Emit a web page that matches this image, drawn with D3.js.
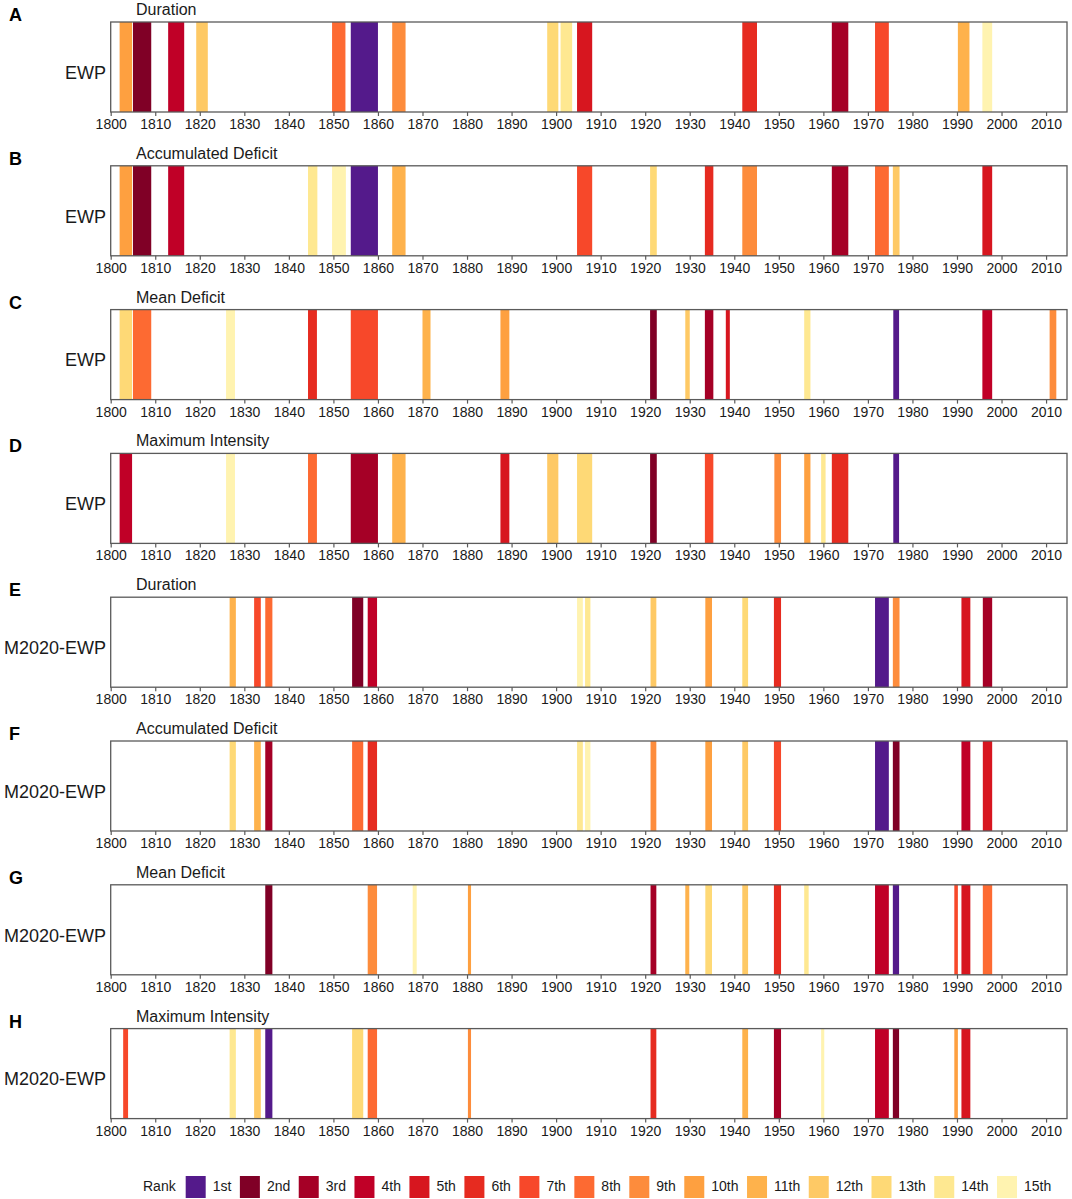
<!DOCTYPE html>
<html>
<head>
<meta charset="utf-8">
<script src="https://cdn.jsdelivr.net/npm/d3@7"></script>
<style>
  html, body { margin: 0; padding: 0; background: #fff; }
  svg { display: block; font-family: "Liberation Sans", Arial, sans-serif; }
</style>
</head>
<body>
<svg id="chart" width="1072" height="1199"></svg>
<script>
// ---------- data ----------
const rankLabels = ["1st","2nd","3rd","4th","5th","6th","7th","8th","9th","10th","11th","12th","13th","14th","15th"];
const rankColors = ["#541a8b","#800026","#a50026","#c00027","#d7161f","#e62b20","#f7482a","#fd6a32",
                    "#fd8c3c","#fea040","#feb24c","#fec965","#fed976","#fee891","#fff3b0"];
const panelLetters = ["A","B","C","D","E","F","G","H"];
const panelTitles = ["Duration","Accumulated Deficit","Mean Deficit","Maximum Intensity",
                     "Duration","Accumulated Deficit","Mean Deficit","Maximum Intensity"];
const panelSeries = ["EWP","EWP","EWP","EWP","M2020-EWP","M2020-EWP","M2020-EWP","M2020-EWP"];
const xTickValues = [1800,1810,1820,1830,1840,1850,1860,1870,1880,1890,1900,1910,1920,1930,1940,1950,1960,1970,1980,1990,2000,2010];

// events: [start year, end year, rank]
const ewpDuration = [
  [1802.0,1804.8,10],[1805.0,1809.1,2],[1812.9,1816.5,4],[1819.2,1821.8,12],[1849.7,1852.7,8],
  [1853.9,1860.0,1],[1863.2,1866.2,9],[1898.0,1900.5,13],[1901.0,1903.6,14],[1904.7,1908.1,5],
  [1941.8,1945.1,6],[1961.9,1965.6,3],[1971.6,1974.7,7],[1990.2,1992.8,11],[1995.7,1997.9,15]
];
const ewpAccDeficit = [
  [1802.0,1804.8,10],[1805.0,1809.1,2],[1812.9,1816.5,4],[1844.3,1846.4,14],[1849.7,1852.8,15],
  [1853.9,1860.0,1],[1863.2,1866.2,11],[1904.7,1908.1,7],[1921.1,1922.6,13],[1933.4,1935.3,6],
  [1941.8,1945.1,9],[1961.9,1965.6,3],[1971.6,1974.7,8],[1975.6,1977.1,12],[1995.7,1997.9,5]
];
const ewpMeanDeficit = [
  [1802.0,1804.8,13],[1805.0,1809.1,8],[1825.9,1827.9,15],[1844.3,1846.3,6],[1853.9,1860.0,7],
  [1870.0,1871.8,11],[1887.5,1889.5,10],[1921.1,1922.6,2],[1929.0,1930.0,12],[1933.4,1935.3,3],
  [1938.1,1939.0,5],[1955.7,1957.1,14],[1975.7,1977.0,1],[1995.7,1997.9,4],[2010.8,2012.3,9]
];
const ewpMaxIntensity = [
  [1802.0,1804.8,4],[1825.9,1827.9,15],[1844.3,1846.3,8],[1853.9,1860.0,3],[1863.2,1866.2,11],
  [1887.5,1889.5,5],[1898.0,1900.5,12],[1904.7,1908.1,13],[1921.1,1922.6,2],[1933.4,1935.3,7],
  [1949.0,1950.5,9],[1955.7,1957.1,10],[1959.5,1960.5,14],[1961.9,1965.6,6],[1975.7,1977.0,1]
];
const m2020Duration = [
  [1826.7,1828.1,11],[1832.2,1833.7,7],[1834.7,1836.3,8],[1854.2,1856.7,2],[1857.7,1859.8,4],
  [1904.7,1906.0,15],[1906.5,1907.7,14],[1921.2,1922.5,12],[1933.5,1935.0,10],[1941.8,1943.1,13],
  [1948.9,1950.5,6],[1971.6,1974.7,1],[1975.6,1977.1,9],[1991.0,1993.0,5],[1995.8,1997.9,3]
];
const m2020AccDeficit = [
  [1826.7,1828.1,13],[1832.2,1833.7,11],[1834.7,1836.3,3],[1854.2,1856.7,8],[1857.7,1859.8,6],
  [1904.7,1906.0,14],[1906.5,1907.7,15],[1921.2,1922.5,9],[1933.5,1935.0,10],[1941.8,1943.1,12],
  [1948.9,1950.5,7],[1971.6,1974.7,1],[1975.6,1977.1,2],[1991.0,1993.0,4],[1995.8,1997.9,5]
];
const m2020MeanDeficit = [
  [1834.7,1836.3,2],[1857.7,1859.8,9],[1867.8,1868.7,15],[1880.2,1880.9,10],[1921.2,1922.5,3],
  [1929.0,1929.9,11],[1933.5,1935.0,13],[1941.8,1943.1,12],[1948.9,1950.5,6],[1955.7,1956.7,14],
  [1971.6,1974.7,4],[1975.6,1977.0,1],[1989.4,1990.2,7],[1991.0,1993.0,5],[1995.8,1997.9,8]
];
const m2020MaxIntensity = [
  [1802.8,1803.9,7],[1826.7,1828.1,14],[1832.2,1833.7,12],[1834.7,1836.3,1],[1854.2,1856.7,13],
  [1857.7,1859.8,8],[1880.2,1880.9,9],[1921.2,1922.5,6],[1941.8,1943.1,11],[1948.9,1950.5,3],
  [1959.5,1960.2,15],[1971.6,1974.7,4],[1975.6,1977.0,2],[1989.4,1990.2,10],[1991.0,1993.0,5]
];
const panelEvents = [ewpDuration, ewpAccDeficit, ewpMeanDeficit, ewpMaxIntensity,
                     m2020Duration, m2020AccDeficit, m2020MeanDeficit, m2020MaxIntensity];

// ---------- layout ----------
const svg = d3.select("#chart");
const plotLeft = 110.7, plotRight = 1067;
const firstTop = 22, panelStep = 143.8, panelHeight = 90;
const x = d3.scaleLinear().domain([1800, 2014.7]).range([plotLeft, plotRight]);
const color = d3.scaleOrdinal().domain(d3.range(1, 16)).range(rankColors);
const frameColor = "#5a5a5a";
const textColor = "#1a1a1a";

panelEvents.forEach((events, i) => {
  const top = firstTop + i * panelStep;
  const g = svg.append("g").attr("transform", `translate(0,${top})`);
  const y = d3.scaleLinear().domain([0, 1]).range([panelHeight, 0]);

  g.selectAll("rect.ev").data(events).join("rect")
    .attr("class", "ev")
    .attr("x", d => x(d[0]))
    .attr("width", d => x(d[1]) - x(d[0]))
    .attr("y", y(1))
    .attr("height", y(0) - y(1))
    .attr("fill", d => color(d[2]));

  g.append("rect")
    .attr("x", plotLeft).attr("y", 0)
    .attr("width", plotRight - plotLeft).attr("height", panelHeight)
    .attr("fill", "none").attr("stroke", frameColor).attr("stroke-width", 1.3);

  const ax = g.append("g").attr("transform", `translate(0,${panelHeight})`)
    .call(d3.axisBottom(x).tickValues(xTickValues).tickFormat(d3.format("d")).tickSize(4).tickPadding(3));
  ax.select(".domain").remove();
  ax.selectAll(".tick line").attr("stroke", frameColor).attr("stroke-width", 1.2);
  ax.selectAll(".tick text").attr("fill", textColor).style("font-size", "14px")
    .style("font-family", "'Liberation Sans', Arial, sans-serif");

  svg.append("text").attr("x", 9).attr("y", top - 1)
    .attr("font-size", 18).attr("font-weight", "bold").attr("fill", "#000")
    .text(panelLetters[i]);

  svg.append("text").attr("x", 136).attr("y", top - 7)
    .attr("font-size", 16).attr("fill", textColor)
    .text(panelTitles[i]);

  svg.append("text").attr("x", 106).attr("y", top + panelHeight / 2 + 7)
    .attr("text-anchor", "end").attr("dominant-baseline", "middle")
    .attr("font-size", 18).attr("fill", textColor)
    .text(panelSeries[i]);
});

// ---------- legend ----------
const legendY = 1187;
const legendFont = 14;
const lg = svg.append("g");
const rankTitle = lg.append("text").attr("x", 143).attr("y", legendY)
  .attr("dominant-baseline", "middle").attr("font-size", legendFont).attr("fill", textColor).text("Rank");
let cx = 143 + rankTitle.node().getComputedTextLength() + 10;
rankLabels.forEach((lab, k) => {
  lg.append("rect").attr("x", cx).attr("y", legendY - 11).attr("width", 20).attr("height", 22)
    .attr("fill", color(k + 1));
  const t = lg.append("text").attr("x", cx + 27).attr("y", legendY)
    .attr("dominant-baseline", "middle").attr("font-size", legendFont).attr("fill", textColor).text(lab);
  cx += 27 + t.node().getComputedTextLength() + 8.5;
});
</script>
</body>
</html>
